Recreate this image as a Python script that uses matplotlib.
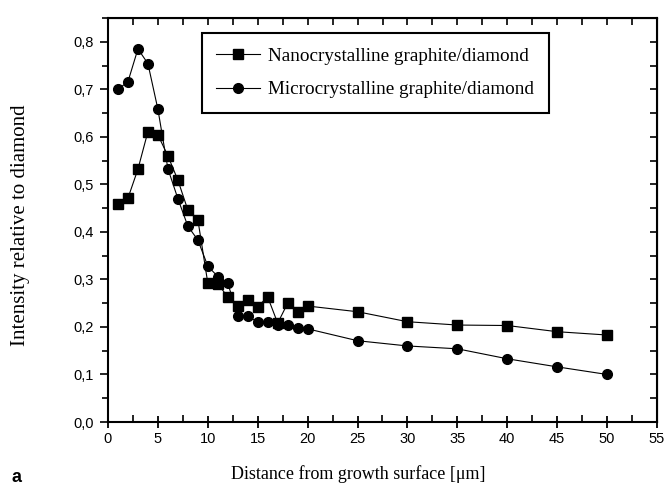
import matplotlib
matplotlib.use("Agg")
import matplotlib.pyplot as plt
from matplotlib.ticker import MultipleLocator, FuncFormatter

x = [1, 2, 3, 4, 5, 6, 7, 8, 9, 10, 11, 12, 13, 14, 15, 16, 17, 18, 19, 20, 25, 30, 35, 40, 45, 50]
nano = [0.458, 0.471, 0.532, 0.611, 0.604, 0.560, 0.509, 0.446, 0.426, 0.292, 0.291, 0.263, 0.245,
        0.256, 0.243, 0.263, 0.208, 0.250, 0.232, 0.244, 0.232, 0.211, 0.204, 0.203, 0.190, 0.183]
micro = [0.700, 0.716, 0.785, 0.754, 0.658, 0.533, 0.470, 0.412, 0.383, 0.328, 0.306, 0.292, 0.224,
         0.223, 0.210, 0.210, 0.205, 0.204, 0.197, 0.196, 0.171, 0.160, 0.154, 0.133, 0.116, 0.100]
labels = ["Nanocrystalline graphite/diamond", "Microcrystalline graphite/diamond"]
xlabel = "Distance from growth surface [\u03bcm]"
ylabel = "Intensity relative to diamond"

serif = ["Liberation Serif", "DejaVu Serif"]
narrow = ["Liberation Sans Narrow", "Liberation Sans", "DejaVu Sans"]

fig = plt.figure(figsize=(6.64, 4.91), dpi=100)
ax = fig.add_axes([108/664, 1-422/491, (657-108)/664, (422-18)/491])

ax.plot(x, nano, color="black", lw=0.8, marker="s", ms=6.5, mfc="black", mec="black", label=labels[0])
ax.plot(x, micro, color="black", lw=0.8, marker="o", ms=7, mfc="black", mec="black", label=labels[1])

ax.set_xlim(0, 55)
ax.set_ylim(0, 0.85)
ax.xaxis.set_major_locator(MultipleLocator(5))
ax.xaxis.set_minor_locator(MultipleLocator(2.5))
ax.yaxis.set_major_locator(MultipleLocator(0.1))
ax.yaxis.set_minor_locator(MultipleLocator(0.05))
ax.yaxis.set_major_formatter(FuncFormatter(lambda v, p: f"{v:.1f}".replace(".", ",")))
ax.xaxis.set_major_formatter(FuncFormatter(lambda v, p: f"{v:.0f}"))

for s in ax.spines.values():
    s.set_linewidth(1.5)

ax.tick_params(axis="x", which="major", direction="inout", length=9, width=1.3, pad=3)
ax.tick_params(axis="x", which="minor", direction="in", length=5, width=1.2)
ax.tick_params(axis="y", which="major", direction="out", length=6, width=1.2, pad=4)
ax.tick_params(axis="y", which="minor", direction="out", length=4, width=1.2)
for lab in ax.get_xticklabels() + ax.get_yticklabels():
    lab.set_family(narrow)
    lab.set_fontsize(10.5)

secx = ax.secondary_xaxis("top")
secx.xaxis.set_major_locator(MultipleLocator(2.5))
secx.tick_params(axis="x", which="both", direction="in", length=5, width=1.2, labeltop=False)
secy = ax.secondary_yaxis("right")
secy.yaxis.set_major_locator(MultipleLocator(0.05))
secy.tick_params(axis="y", which="both", direction="in", length=5, width=1.2, labelright=False)

ax.set_xlabel(xlabel, family=serif, fontsize=13)
ax.xaxis.set_label_coords((358-108)/(657-108), -(465-422)/404)
ax.set_ylabel(ylabel, family=serif, fontsize=15)
ax.yaxis.set_label_coords(-(108-30)/549, (422-225)/404)

leg = ax.legend(loc="upper left", bbox_to_anchor=((202-108)/549, (422-33)/404),
                borderaxespad=0,
                frameon=True, fancybox=False, edgecolor="black", framealpha=1,
                handlelength=2.3, handletextpad=0.4, borderpad=0.75, labelspacing=0.85,
                prop={"family": serif, "size": 13.8})
leg.get_frame().set_linewidth(1.5)

fig.text(12/664, 1-478/491, "a", fontsize=13, fontweight="bold", family=["Liberation Sans", "DejaVu Sans"],
         va="center", ha="left")

fig.savefig("out.png", dpi=100)
